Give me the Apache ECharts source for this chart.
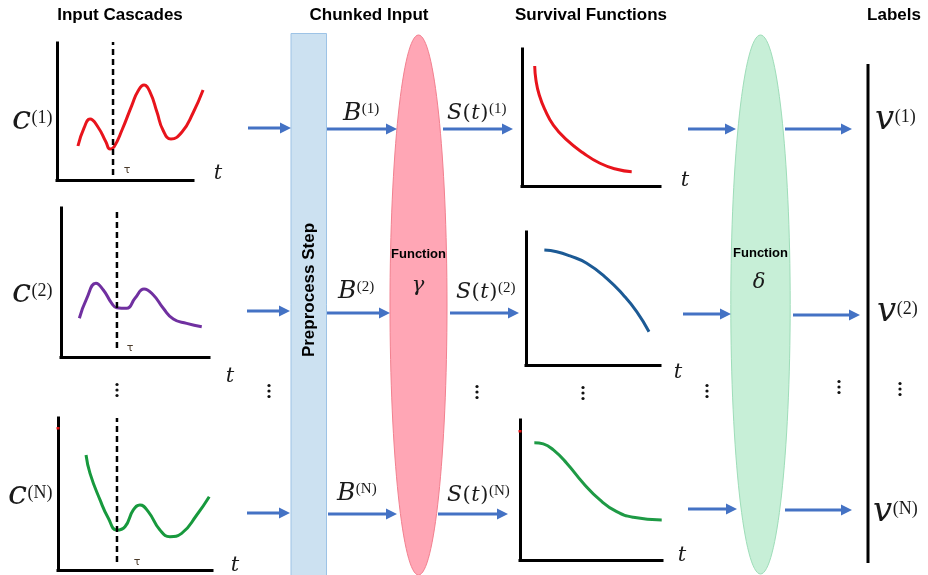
<!DOCTYPE html>
<html><head><meta charset="utf-8">
<script src="https://cdn.jsdelivr.net/npm/echarts@6/dist/echarts.min.js"></script>
<style>html,body{margin:0;padding:0;background:#fff}#chart{width:928px;height:575px}</style>
</head><body><div id="chart"></div>
<script>
// ---------- data (value units 0..100 on each small panel) ----------
const cascade1 = [[15.4,24.8],[19.9,38.0],[24.3,44.5],[30.1,38.7],[36.0,27.7],[39.0,22.6],[41.9,24.1],[47.8,36.5],[55.1,54.7],[59.6,65.0],[64.0,69.3],[68.4,64.2],[73.5,49.6],[77.9,36.5],[83.8,29.9],[91.9,35.0],[100,48.9],[107.4,65.7]];
const cascade2 = [[12.4,26.0],[17.4,39.4],[23.6,49.5],[28.6,45.0],[34.3,36.0],[37.6,33.1],[44.4,32.7],[50.0,39.4],[56.1,45.6],[62.4,41.6],[69.1,32.7],[75.9,25.5],[84.9,22.6],[95.1,20.3]];
const cascadeN = [[18.2,75.7],[20.8,63.6],[27.3,46.1],[32.7,34.0],[38.1,26.3],[43.5,28.5],[48.9,39.5],[53.2,42.8],[58.6,38.4],[66.2,26.3],[72.7,21.9],[80.3,24.1],[90.1,36.2],[98.2,48.2]];
const survival1 = [[9.2,87.6],[10.1,77.4],[12.5,66.4],[16.7,55.5],[22.7,44.5],[32.4,33.6],[44.4,24.1],[56.5,16.6],[68.6,12.2],[79.5,10.4]];
const survival2 = [[13.7,86.5],[22.9,85.2],[32.8,82.0],[45.3,76.5],[60.2,65.2],[72.6,52.6],[82.6,40.1],[91.8,25.0]];
const survivalN = [[10.1,83.8],[16.4,82.9],[23.5,78.6],[32.9,69.1],[44.6,54.8],[56.3,42.9],[68.1,34.5],[79.8,30.5],[99.8,28.6]];
const tauX = [41.2, 37.8, 38.3];
const tauSpan = [[3.6,100.7],[6.0,99.3],[5.3,100]];
const columnTitles = ['Input Cascades','Chunked Input','Survival Functions','Labels'];
const rowIds = ['1','2','N'];
const curveColors = ['#E8141C','#7030A0','#17993D','#E8141C','#1C5A95','#1E9A45'];

// ---------- layout ----------
const panels = [
  {left:57, top:43, width:136, height:137},
  {left:61, top:208, width:148, height:149},
  {left:58, top:418, width:154, height:152},
  {left:522, top:49, width:138, height:137},
  {left:526, top:232, width:134, height:133},
  {left:520, top:420, width:142, height:140}
];
const curves = [cascade1, cascade2, cascadeN, survival1, survival2, survivalN];
// panel 1's curve runs past the end of its t axis: plot it on an overlaid, wider hidden grid
const wideExtra = 10;
const wideGrid = {left:57, top:43, width:136 + wideExtra, height:137};
const wideMax = 100 * (136 + wideExtra) / 136;

function axis(i, show, max){
  return {type:'value', gridIndex:i, min:0, max:max || 100, show: show,
    axisLine:{show:true, onZero:false, lineStyle:{color:'#000', width:3, cap:'square'}},
    axisTick:{show:false}, axisLabel:{show:false}, splitLine:{show:false}};
}

const grids = panels.map(p=>({left:p.left, top:p.top, width:p.width, height:p.height}));
grids.push(wideGrid);
const xAxes = panels.map((p,i)=>axis(i, true));
xAxes.push(axis(6, false, wideMax));
const yAxes = panels.map((p,i)=>axis(i, true));
yAxes.push(axis(6, false));

const series = [];
curves.forEach((d,i)=>{
  const gi = i === 0 ? 6 : i;
  series.push({type:'line', xAxisIndex:gi, yAxisIndex:gi, data:d, smooth:0.5, symbol:'none', clip:false,
    lineStyle:{color:curveColors[i], width:3}, z:3});
});
tauX.forEach((t,i)=>{
  series.push({type:'line', xAxisIndex:i, yAxisIndex:i, data:[[t,tauSpan[i][0]],[t,tauSpan[i][1]]], symbol:'none', clip:false,
    lineStyle:{color:'#000', width:2.5, type:[6,4]}, z:4});
});

// ---------- diagram decorations ----------
const BLUE = '#4472C4', INK = '#1a1a1a';
const DJ = '"DejaVu Serif"', LS = '"Liberation Serif"';
const SANS = '"Liberation Sans", Arial, sans-serif';
const els = [];
const mctx = document.createElement('canvas').getContext('2d');
function measure(t, font){ mctx.font = font; return mctx.measureText(t).width; }

function arrow(x1, x2, y){
  els.push({type:'line', shape:{x1:x1, y1:y, x2:x2-8, y2:y}, style:{stroke:BLUE, lineWidth:3}, z:10});
  els.push({type:'polygon', shape:{points:[[x2,y],[x2-11,y-5.5],[x2-11,y+5.5]]}, style:{fill:BLUE}, z:10});
}
function dots(x, y){
  [-5.5,0,5.5].forEach(d=>els.push({type:'circle', shape:{cx:x, cy:y+d, r:1.6}, style:{fill:'#111'}, z:10}));
}
function txt(x, y, text, font, opts){
  els.push({type:'text', z:12, style:Object.assign({x:x, y:y, text:text, font:font, fill:INK, align:'center', verticalAlign:'middle'}, opts||{})});
}
// parts: [text, italic, family, size, rise]; baseline-based placement
function mathLabel(x, baseline, parts){
  let cx = x;
  parts.forEach(p=>{
    const [t, it, fam, size, rise] = p;
    const font = (it ? 'italic ' : '') + size + 'px ' + fam;
    const k = fam === DJ ? 0.346 : 0.337;
    els.push({type:'text', z:12, style:{x:cx, y:baseline - rise - k*size, text:t, font:font, fill:INK, align:'left', verticalAlign:'middle'}});
    cx += measure(t, font) + (rise > 0 ? 0 : 0.5);
  });
}

// background shapes
els.push({type:'rect', shape:{x:291, y:33.5, width:35.5, height:560}, style:{fill:'#CCE1F1', stroke:'#9DC3E6', lineWidth:1}, z:1});
els.push({type:'ellipse', shape:{cx:418.5, cy:305, rx:28.5, ry:270}, style:{fill:'#FFA6B5', stroke:'#F2808F', lineWidth:1}, z:1});
els.push({type:'ellipse', shape:{cx:760.5, cy:304.5, rx:29.7, ry:269.5}, style:{fill:'#C7EFD7', stroke:'#9EDDB9', lineWidth:1}, z:1});
els.push({type:'line', shape:{x1:868, y1:64, x2:868, y2:563}, style:{stroke:'#000', lineWidth:3}, z:5});

// titles
const titleX = [120, 369, 591, 894];
columnTitles.forEach((t,i)=>txt(titleX[i], 15, t, 'bold 17px ' + SANS, {fill:'#000'}));

// preprocess / function texts
els.push({type:'text', z:12, x:309, y:290, rotation:Math.PI/2, style:{x:0, y:0, text:'Preprocess Step', font:'bold 17px ' + SANS, fill:'#000', align:'center', verticalAlign:'middle'}});
txt(418.5, 254, 'Function', 'bold 13px ' + SANS, {fill:'#000'});
txt(760.5, 253, 'Function', 'bold 13px ' + SANS, {fill:'#000'});
txt(418, 286, 'γ', 'italic 21px ' + DJ);
txt(759, 283, 'δ', 'italic 21px ' + DJ);

// arrows
const rowIn = [[248,291,128],[247,290,311],[247,290,513]];
const rowB = [[327,397,129],[327,390,313],[328,397,514]];
const rowS = [[443,513,129],[450,519,313],[438,508,514]];
const rowD = [[688,736,129],[683,731,314],[688,737,509]];
const rowV = [[785,852,129],[793,860,315],[785,852,510]];
[rowIn,rowB,rowS,rowD,rowV].forEach(g=>g.forEach(a=>arrow(a[0],a[1],a[2])));

// math labels (x, baseline)
const cPos = [[12,132],[12,305],[8,507]];
const bPos = [[343,122],[338,300],[337,502]];
const sPos = [[447,121],[456,300],[447,503]];
const vPos = [[875,132],[877,324],[873,524]];
rowIds.forEach((r,i)=>{
  const sup = '(' + r + ')';
  mathLabel(cPos[i][0], cPos[i][1], [['c',true,DJ,34,0],[sup,false,LS,18,8]]);
  mathLabel(bPos[i][0], bPos[i][1], [['B',true,DJ,25,0],[sup,false,LS,15,8]]);
  mathLabel(sPos[i][0], sPos[i][1], [['S',true,DJ,22,0],['(',false,DJ,21,0],['t',true,DJ,21,0],[')',false,DJ,21,0],[sup,false,LS,15,7]]);
  mathLabel(vPos[i][0], vPos[i][1], [['v',true,DJ,34,0],[sup,false,LS,18,9]]);
});

// t labels and tau labels
const tPos = [[218,174],[230,377],[235,566],[685,181],[678,373],[682,556]];
tPos.forEach(p=>txt(p[0], p[1], 't', 'italic 21px ' + DJ));
const tauPos = [[127,170],[130,348],[137,562]];
tauPos.forEach(p=>txt(p[0], p[1], 'τ', '11px "DejaVu Sans", sans-serif', {fill:'#4a3a2a'}));

// tiny red ticks on axes
els.push({type:'rect', shape:{x:56.5, y:427, width:3, height:2.5}, style:{fill:'#e01010'}, z:6});
els.push({type:'rect', shape:{x:518.5, y:430, width:3, height:2.5}, style:{fill:'#e01010'}, z:6});

// ellipsis dots
[[117,390],[269,391],[477,392],[583,393],[707,391],[839,387],[900,389]].forEach(p=>dots(p[0],p[1]));

const option = {
  animation:false,
  backgroundColor:'#fff',
  grid: grids,
  xAxis: xAxes,
  yAxis: yAxes,
  series: series,
  graphic: {elements: els}
};
const chart = echarts.init(document.getElementById('chart'));
chart.setOption(option);
</script></body></html>
